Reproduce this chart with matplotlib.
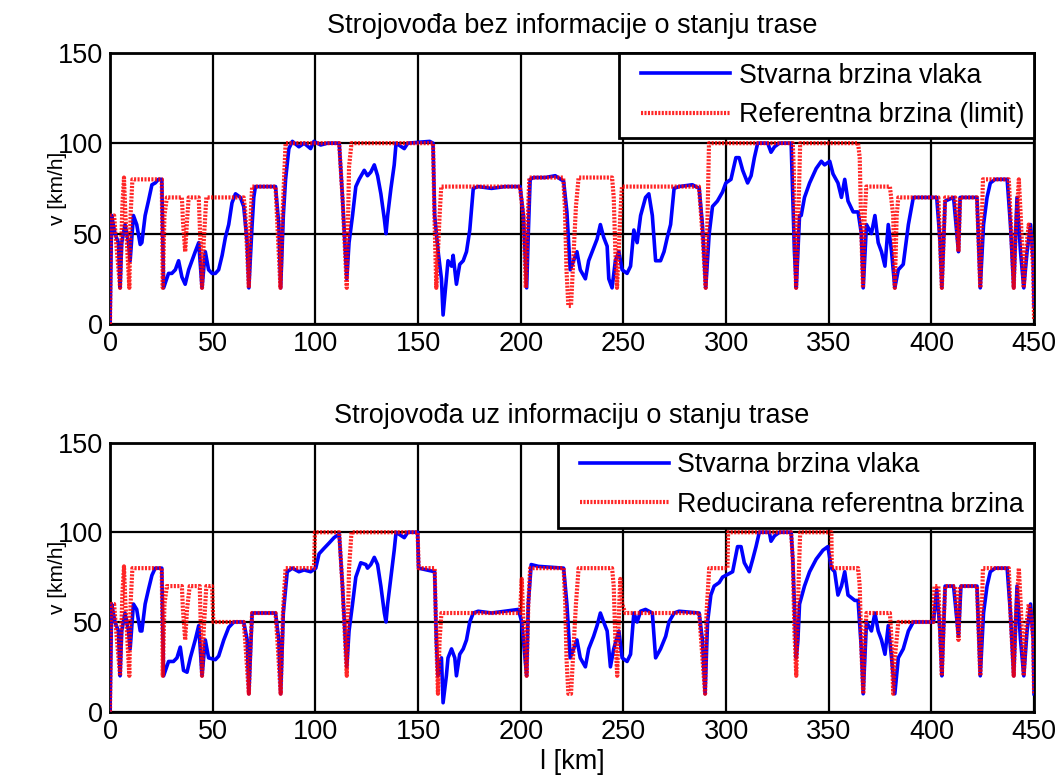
import matplotlib
matplotlib.use("Agg")
import matplotlib.pyplot as plt
from matplotlib.lines import Line2D
from matplotlib.legend_handler import HandlerLine2D

matplotlib.rcParams['font.family'] = ['Liberation Sans', 'DejaVu Sans']

# ---- podaci (ocitano sa slike) ----
# referentna brzina (limit), gornji graf: (km, km/h)
ref_top = [(0, 0), (0.5, 60), (2, 60), (3, 45), (4.9, 20), (5.5, 45), (6, 65), (6.8, 81), (7.5, 60),
           (9.4, 20), (10, 60), (10.9, 80), (25.2, 80), (25.7, 20), (26.5, 60), (27.7, 70), (35, 70),
           (35.5, 57), (36.6, 40), (37.5, 57), (38.3, 70), (43.2, 70), (44, 46), (44.8, 20), (45.6, 45),
           (46.9, 70), (65.1, 70), (65.8, 63), (67.6, 20), (68.5, 60), (69.2, 76), (80.6, 76), (81.5, 55),
           (83, 20), (84, 60), (85.5, 100), (111.6, 100), (113.2, 70), (115.3, 20), (116.4, 87),
           (117.6, 100), (157.3, 100), (158, 59), (158.9, 20), (160.5, 60), (161.3, 76), (199.6, 76),
           (201.3, 60), (202.5, 20), (203.5, 60), (204.2, 81), (220.7, 81), (221.5, 65), (222.3, 30),
           (223.2, 10), (224.5, 10), (226.9, 65), (228.2, 81), (244.5, 81), (245.3, 70), (246.1, 40),
           (246.9, 20), (248.5, 60), (249.3, 76), (286.8, 76), (288.5, 50), (290.1, 20), (291, 60),
           (291.7, 100), (332.5, 100), (333, 85), (333.5, 45), (334.1, 20), (335, 50), (336.1, 100),
           (364.3, 100), (365.1, 92), (365.9, 50), (366.7, 20), (367.5, 60), (368.3, 76), (379.8, 76),
           (381.4, 60), (382.2, 20), (383.1, 60), (383.9, 70), (403.4, 70), (404.2, 46), (405.1, 20),
           (406.7, 70), (411.6, 70), (413.2, 40), (414, 70), (422.2, 70), (423, 45), (423.8, 20),
           (425.1, 80), (437.7, 80), (438.5, 61), (440.1, 20), (441, 50), (442.6, 80), (443.5, 60),
           (445, 20), (446, 40), (447.4, 55), (448.5, 50), (449.6, 30), (450, 2)]

# stvarna brzina vlaka, gornji graf
act_top = [(0, 0), (0.8, 60), (2.4, 50), (4.1, 45), (4.9, 20), (5.7, 45), (7.3, 55), (9.0, 45),
           (9.8, 35), (11.4, 60), (13.0, 55), (14.7, 44), (15.5, 45), (17.1, 60), (18.7, 68), (20.4, 77),
           (22.0, 78), (23.6, 80), (25.2, 80), (26.1, 20), (28.5, 28), (30.1, 28), (31.8, 30), (33.4, 35),
           (35.0, 26), (36.6, 22), (38.3, 30), (39.9, 35), (41.5, 40), (43.2, 45), (44.8, 20), (46.4, 40),
           (48.0, 30), (49.7, 28), (51.3, 28), (52.9, 30), (54.6, 38), (56.2, 48), (57.8, 55), (59.4, 67),
           (61.1, 72), (63.5, 70), (65.1, 65), (66.8, 45), (67.6, 20), (69.2, 55), (70.0, 70), (70.8, 76),
           (80.6, 76), (82.2, 55), (83.1, 20), (84.4, 60), (85.5, 80), (87.1, 97), (88.8, 101), (92.0, 98),
           (94.5, 100), (97.7, 97), (99.3, 101), (102.6, 99), (105.9, 100), (111.6, 100), (113.2, 70),
           (115.3, 25), (116.4, 45), (118.1, 60), (119.7, 76), (121.3, 80), (123.8, 85), (125.4, 82),
           (127.0, 84), (128.7, 88), (130.3, 82), (131.9, 72), (133.6, 58), (134.4, 50), (135.2, 60),
           (136.8, 75), (138.4, 88), (139.3, 100), (143.3, 97), (145.0, 100), (155.7, 101), (157.3, 100),
           (158.1, 60), (159.7, 41), (161.4, 25), (162.2, 5), (163.0, 15), (163.8, 25), (164.6, 35),
           (166.3, 32), (167.1, 38), (168.7, 22), (170.3, 33), (172.0, 35), (173.6, 40), (175.2, 52),
           (176.9, 75), (179.3, 76), (185.8, 75), (192.3, 76), (199.7, 76), (201.3, 60), (202.9, 20),
           (203.7, 50), (204.6, 80), (206.2, 81), (211.9, 81), (216.8, 82), (220.9, 79), (222.5, 62),
           (224.1, 30), (227.4, 40), (229.0, 30), (231.5, 25), (233.1, 35), (235.5, 42), (237.2, 47),
           (238.8, 55), (240.4, 48), (242.1, 43), (242.9, 25), (244.5, 20), (246.1, 35), (247.8, 40),
           (249.4, 30), (251.8, 28), (253.5, 32), (255.1, 52), (256.7, 45), (258.4, 60), (260.8, 70),
           (262.4, 72), (264.1, 60), (265.7, 35), (268.1, 35), (269.8, 40), (271.4, 48), (273.0, 55),
           (274.7, 75), (277.1, 76), (283.6, 77), (286.9, 75), (288.5, 55), (290.1, 20), (291.8, 50),
           (293.4, 65), (295.8, 68), (298.3, 73), (299.9, 78), (302.4, 80), (304.8, 92), (306.4, 92),
           (308.1, 85), (310.5, 78), (312.2, 82), (313.8, 92), (315.4, 100), (320.3, 100), (321.9, 95),
           (323.6, 98), (326.0, 100), (331.7, 100), (333.3, 40), (334.2, 20), (335.8, 60), (336.6, 60),
           (338.2, 70), (340.7, 78), (343.9, 86), (346.4, 90), (348.0, 88), (350.5, 90), (352.1, 83),
           (354.5, 78), (356.2, 70), (357.8, 80), (359.4, 68), (361.9, 62), (364.3, 62), (365.9, 50),
           (366.8, 20), (368.4, 55), (370.8, 50), (372.5, 60), (374.1, 45), (375.7, 40), (377.4, 32),
           (379.0, 55), (380.6, 40), (382.2, 20), (383.9, 30), (386.3, 33), (388.8, 55), (391.2, 70),
           (402.6, 70), (404.2, 46), (405.1, 20), (406.7, 68), (410.8, 70), (413.2, 40), (414.0, 70),
           (422.2, 70), (423.8, 20), (425.4, 55), (427.1, 70), (428.7, 78), (431.1, 80), (436.9, 80),
           (438.5, 55), (440.1, 20), (441.7, 70), (443.4, 40), (445.0, 20), (446.6, 40), (448.3, 55),
           (449.6, 35), (450, 10)]

# reducirana referentna brzina, donji graf
ref_bot = [(0, 0), (0.5, 60), (2, 60), (3, 45), (4.9, 20), (5.5, 45), (6, 65), (6.8, 81), (7.5, 60),
           (9.4, 20), (10, 60), (10.9, 80), (25.2, 80), (25.7, 20), (26.5, 60), (27.7, 70), (35, 70),
           (35.5, 57), (36.6, 40), (37.5, 57), (38.8, 70), (43.7, 70), (44.8, 20), (45.6, 45), (46.9, 70),
           (49.7, 70), (50.3, 50), (65.1, 50), (65.8, 40), (67.6, 10), (68.5, 40), (69.2, 55), (80.6, 55),
           (81.5, 40), (83.1, 10), (84.2, 55), (85.5, 80), (99.3, 80), (99.8, 100), (111.6, 100),
           (113.2, 70), (115.3, 20), (116.4, 80), (117.6, 100), (149.8, 100), (150.3, 80), (158.1, 80),
           (158.9, 40), (159.7, 10), (160.5, 40), (161.4, 55), (199.7, 55), (200.5, 74), (201.3, 50),
           (202.9, 20), (203.7, 60), (204.6, 80), (220.9, 80), (221.7, 60), (222.3, 30), (223.2, 10),
           (224.5, 10), (226.9, 60), (228.2, 80), (244.5, 80), (245.3, 70), (246.1, 40), (247.0, 20),
           (248.0, 60), (248.5, 74), (249.4, 60), (250.9, 55), (286.9, 55), (288.5, 30), (289.8, 10),
           (290.5, 55), (291.8, 80), (300.7, 80), (301.0, 100), (331.7, 100), (332.5, 85), (333.3, 45),
           (334.2, 20), (335.4, 75), (336.1, 100), (351.3, 100), (351.5, 80), (364.3, 80), (365.1, 70),
           (365.9, 35), (366.8, 10), (367.5, 40), (368.4, 55), (379.8, 55), (380.6, 40), (381.4, 10),
           (382.2, 30), (383.9, 50), (401.0, 50), (401.5, 70), (403.4, 70), (404.2, 45), (405.1, 20),
           (406.0, 50), (406.7, 70), (411.6, 70), (413.2, 40), (414.0, 70), (422.2, 70), (423.0, 45),
           (423.8, 20), (425.1, 80), (437.7, 80), (438.5, 55), (440.1, 20), (441.0, 50), (442.6, 80),
           (443.5, 60), (445.0, 20), (446.0, 45), (447.4, 60), (448.5, 55), (449.6, 40), (450, 10)]

# stvarna brzina vlaka, donji graf
act_bot = [(0, 0), (0.8, 60), (2.4, 50), (4.1, 45), (4.9, 20), (5.7, 45), (7.3, 55), (9.0, 45),
           (9.8, 35), (11.4, 60), (13.0, 57), (14.7, 45), (15.5, 45), (17.1, 60), (18.7, 68), (20.4, 76),
           (22.0, 80), (25.2, 80), (26.1, 20), (28.5, 28), (30.9, 28), (32.6, 30), (34.2, 36), (35.8, 23),
           (37.5, 22), (39.1, 30), (41.5, 40), (43.2, 48), (44.8, 20), (46.4, 40), (48.0, 30), (51.3, 29),
           (52.9, 31), (55.4, 40), (57.8, 47), (60.3, 50), (65.1, 50), (66.8, 40), (67.6, 10), (69.2, 55),
           (80.6, 55), (82.2, 40), (83.1, 10), (84.4, 55), (86.3, 78), (88.8, 80), (92.0, 78), (94.5, 79),
           (97.7, 78), (100.2, 80), (101.8, 88), (104.2, 91), (106.7, 94), (109.1, 97), (111.6, 99),
           (113.2, 70), (115.3, 25), (116.4, 45), (118.1, 60), (119.7, 75), (122.1, 83), (124.6, 82),
           (125.4, 80), (127.0, 82), (128.7, 86), (130.3, 82), (131.9, 70), (133.6, 55), (134.4, 50),
           (135.2, 60), (136.8, 75), (138.4, 90), (139.3, 100), (143.3, 97), (145.0, 100), (149.8, 100),
           (150.3, 80), (158.1, 78), (158.9, 40), (159.7, 20), (161.4, 30), (162.2, 5), (163.8, 20),
           (164.6, 30), (166.3, 35), (167.9, 30), (168.7, 20), (170.3, 32), (172.0, 35), (173.6, 40),
           (175.2, 50), (176.9, 55), (179.3, 56), (185.8, 55), (192.3, 56), (198.9, 57), (200.5, 50),
           (202.9, 20), (203.7, 60), (205.1, 82), (208.6, 81), (220.9, 80), (222.5, 60), (224.1, 30),
           (227.4, 40), (229.0, 30), (231.5, 25), (233.1, 35), (235.5, 42), (237.2, 48), (238.8, 55),
           (240.4, 50), (242.1, 45), (243.7, 25), (245.3, 35), (247.8, 45), (249.4, 30), (251.8, 28),
           (253.5, 32), (255.1, 55), (256.7, 50), (258.4, 56), (260.8, 57), (264.1, 55), (265.7, 30),
           (268.1, 35), (270.6, 42), (272.2, 50), (274.7, 55), (277.1, 56), (286.9, 55), (288.5, 40),
           (289.8, 10), (291.0, 50), (292.6, 65), (294.2, 70), (296.7, 72), (298.3, 75), (301.6, 77),
           (303.2, 78), (305.6, 92), (307.3, 92), (308.9, 83), (311.3, 78), (313.0, 85), (314.6, 92),
           (316.2, 100), (321.1, 100), (321.9, 95), (323.6, 98), (326.0, 100), (331.7, 100), (332.5, 85),
           (334.2, 30), (335.0, 40), (335.8, 60), (338.2, 70), (340.7, 78), (343.9, 85), (347.2, 90),
           (349.6, 92), (351.3, 80), (352.9, 78), (354.5, 65), (356.2, 70), (357.8, 78), (359.4, 65),
           (362.7, 62), (364.3, 62), (365.9, 35), (366.8, 10), (368.4, 50), (370.8, 45), (372.5, 55),
           (374.1, 45), (375.7, 40), (377.4, 32), (379.0, 48), (380.6, 30), (382.2, 10), (383.9, 30),
           (386.3, 35), (388.8, 45), (391.2, 50), (401.0, 50), (402.6, 68), (404.2, 45), (405.1, 20),
           (406.7, 70), (410.8, 70), (413.2, 42), (414.4, 70), (422.2, 70), (423.8, 20), (425.4, 55),
           (427.1, 70), (428.7, 78), (431.1, 80), (436.9, 80), (438.5, 55), (440.1, 20), (441.7, 70),
           (443.4, 40), (445.0, 20), (446.6, 45), (448.3, 60), (449.6, 40), (450, 10)]

titles = ['Strojovođa bez informacije o stanju trase', 'Strojovođa uz informaciju o stanju trase']
labels_ref = ['Referentna brzina (limit)', 'Reducirana referentna brzina']
label_act = 'Stvarna brzina vlaka'
xticks = [0, 50, 100, 150, 200, 250, 300, 350, 400, 450]
yticks = [0, 50, 100, 150]

fs = 19.5
fig = plt.figure(figsize=(10.61, 7.78), dpi=100)
ax1 = fig.add_axes([0.1037, 0.5835, 0.8709, 0.3487])
ax2 = fig.add_axes([0.1037, 0.0852, 0.8709, 0.3460])

for ax, act, ref, title, lab in zip([ax1, ax2], [act_top, act_bot], [ref_top, ref_bot], titles, labels_ref):
    ax.plot([p[0] for p in act], [p[1] for p in act], color='blue', lw=2.6, label=label_act, zorder=3)
    ax.plot([p[0] for p in ref], [p[1] for p in ref], color='red', lw=3.0, ls=(0, (0.5, 0.33)),
            alpha=0.85, label=lab, zorder=4)
    ax.set_xlim(0, 450)
    ax.set_ylim(0, 150)
    ax.set_xticks(xticks)
    ax.set_yticks(yticks)
    ax.tick_params(labelsize=fs, direction='in', length=0, pad=5, width=1.5)
    ax.grid(True, color='black', lw=1.6, ls='-')
    ax.set_axisbelow(True)
    for s in ax.spines.values():
        s.set_linewidth(2)
    ax.set_title(title, fontsize=fs, pad=14)
    ax.set_ylabel('v [km/h]', fontsize=15)
    ax.yaxis.set_label_coords(-0.047, 0.5)
    leg = ax.legend(loc='upper right', fontsize=19.3, borderaxespad=0, fancybox=False,
                    handlelength=3.75, handletextpad=0.33, labelspacing=0.5, borderpad=0.37,
                    framealpha=1, handler_map={Line2D: HandlerLine2D(xpad=0.45)})
    leg.get_frame().set_edgecolor('black')
    leg.get_frame().set_linewidth(2)

ax2.set_xlabel('l [km]', fontsize=fs, labelpad=3)

plt.savefig('out.png', dpi=100)
